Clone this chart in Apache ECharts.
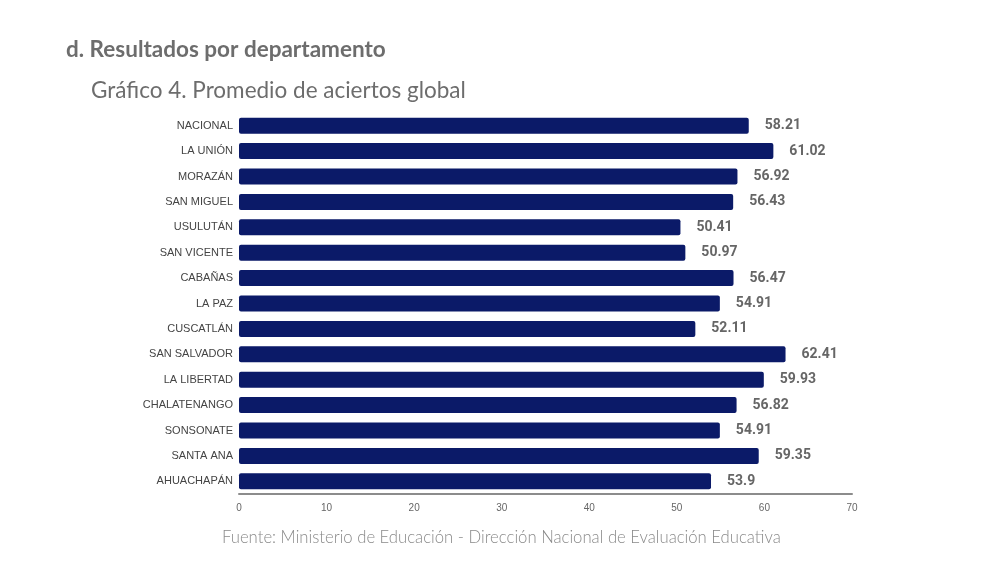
<!DOCTYPE html>
<html><head><meta charset="utf-8">
<script src="https://cdn.jsdelivr.net/npm/echarts@6/dist/echarts.min.js"></script>
<style>html,body{margin:0;padding:0;background:#fff}#c{width:1000px;height:563px}</style>
</head><body><div id="c"></div>
<script>
const categories = ["NACIONAL","LA UNIÓN","MORAZÁN","SAN MIGUEL","USULUTÁN","SAN VICENTE","CABAÑAS","LA PAZ","CUSCATLÁN","SAN SALVADOR","LA LIBERTAD","CHALATENANGO","SONSONATE","SANTA ANA","AHUACHAPÁN"];
const values = [58.21,61.02,56.92,56.43,50.41,50.97,56.47,54.91,52.11,62.41,59.93,56.82,54.91,59.35,53.9];
const xTicks = {min:0, max:70, interval:10};
const titleText = "d. Resultados por departamento";
const subtitleText = "Gráfico 4. Promedio de aciertos global";
const sourceText = "Fuente: Ministerio de Educación - Dirección Nacional de Evaluación Educativa";

const chart = echarts.init(document.getElementById('c'));
chart.setOption({
  animation:false,
  backgroundColor:'#fff',
  title:[
    {text:titleText,left:61,top:33,textStyle:{fontFamily:'Lato',fontSize:22.5,fontWeight:'bold',color:'#6d6d6d'}},
    {text:subtitleText,left:86,top:74,textStyle:{fontFamily:'Lato',fontSize:22.5,fontWeight:'normal',color:'#6d6d6d'}},
    {text:sourceText,left:217,top:524,textStyle:{fontFamily:'Lato',fontSize:16.7,fontWeight:300,color:'#8a8a8a'}}
  ],
  grid:{left:239,top:113,width:613,height:381,containLabel:false},
  xAxis:{type:'value',min:xTicks.min,max:xTicks.max,interval:xTicks.interval,
    splitLine:{show:false},
    axisLine:{show:true,lineStyle:{color:'#8c8c8c',width:2}},
    axisTick:{show:false},
    axisLabel:{fontFamily:'Liberation Sans',fontSize:10,color:'#666',margin:9}},
  yAxis:{type:'category',data:categories,inverse:true,
    axisLine:{show:false},axisTick:{show:false},
    axisLabel:{fontFamily:'Liberation Sans',fontSize:11,color:'#444',margin:6}},
  series:[{type:'bar',data:values,barWidth:16,
    itemStyle:{color:'#0b1a68',borderRadius:2},
    label:{show:true,position:'right',distance:16,fontFamily:'Roboto',fontSize:14,fontWeight:'bold',color:'#666'}}]
});
</script></body></html>
